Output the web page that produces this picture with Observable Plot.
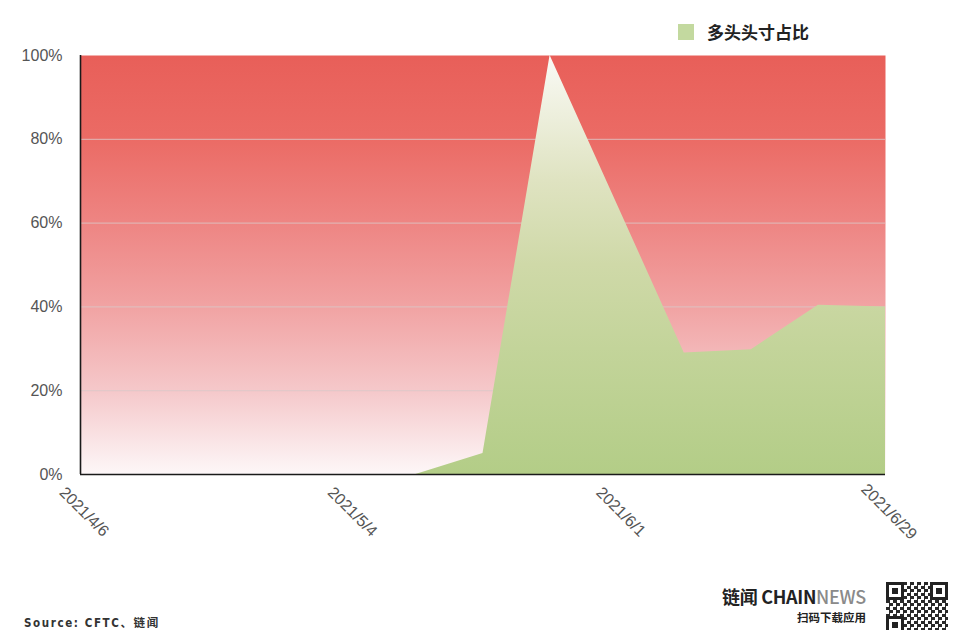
<!DOCTYPE html>
<html>
<head>
<meta charset="utf-8">
<script src="https://cdn.jsdelivr.net/npm/d3@7"></script>
<script src="https://cdn.jsdelivr.net/npm/@observablehq/plot@0.6"></script>
<style>
  body { margin: 0; background: #fff; }
  #wrap { position: relative; width: 960px; height: 630px; overflow: hidden; font-family: "Liberation Sans", Arial, sans-serif; }
  #chart { position: absolute; left: 0; top: 0; }
  .legend { position: absolute; left: 678px; top: 19px; display: flex; align-items: center; font-family: "Noto Sans CJK SC", sans-serif; font-size: 17px; font-weight: 700; color: #222; }
  .legend .sw { width: 16px; height: 16px; background: #c3d99f; margin-right: 13px; }
  .source { position: absolute; left: 24px; top: 614px; font-family: "DejaVu Sans Condensed", "Noto Sans CJK SC", sans-serif; font-size: 11.5px; letter-spacing: 1.6px; color: #333; font-weight: 600; }
  .brand { position: absolute; left: 722px; top: 583px; font-family: "Noto Sans CJK SC", sans-serif; font-size: 18px; font-weight: 700; color: #222; letter-spacing: -0.3px; }
  .brand span { color: #8a8a8a; font-weight: 500; }
  .brand2 { position: absolute; left: 797px; top: 609px; font-family: "Noto Sans CJK SC", sans-serif; font-size: 11.5px; font-weight: 700; color: #222; }
  .qr { position: absolute; left: 886px; top: 582px; width: 62px; height: 52px; background: repeating-conic-gradient(#2a2a2a 0 25%, #fff 0 50%) 0 0/7px 7px; }
  .qr i { position: absolute; width: 12px; height: 12px; border: 3px solid #222; background: #fff; box-shadow: inset 0 0 0 3px #fff, inset 0 0 0 6px #222; }
</style>
</head>
<body>
<div id="wrap">
  <div id="chart"></div>
  <div class="legend"><div class="sw"></div>多头头寸占比</div>
  <div class="source">Source: CFTC、链闻</div>
  <div class="brand">链闻 CHAIN<span>NEWS</span></div>
  <div class="brand2">扫码下载应用</div>
  <div class="qr"><i style="left:0;top:0"></i><i style="right:0;top:0"></i><i style="left:0;bottom:0"></i></div>
</div>
<script>
const dates = ["2021-04-06","2021-04-13","2021-04-20","2021-04-27","2021-05-04","2021-05-11","2021-05-18","2021-05-25","2021-06-01","2021-06-08","2021-06-15","2021-06-22","2021-06-29"];
const longShare = [0, 0, 0, 0, 0, 0, 0.05, 1.0, 0.645, 0.29, 0.298, 0.404, 0.40];
const tickDates = ["2021-04-06","2021-05-04","2021-06-01","2021-06-29"];
const tickLabels = ["2021/4/6","2021/5/4","2021/6/1","2021/6/29"];
const yTicks = [0, 0.2, 0.4, 0.6, 0.8, 1];

const data = dates.map((d, i) => ({date: new Date(d), value: longShare[i]}));
const ticks = tickDates.map((d, i) => ({date: new Date(d), label: tickLabels[i]}));

const chart = Plot.plot({
  width: 960,
  height: 630,
  marginLeft: 80,
  marginRight: 75,
  marginTop: 55,
  marginBottom: 156,
  style: {fontFamily: "'Liberation Sans', Arial, sans-serif", background: "transparent"},
  x: {type: "utc", domain: [new Date(dates[0]), new Date(dates[dates.length - 1])], axis: null},
  y: {domain: [0, 1], ticks: yTicks, tickFormat: d3.format(".0%"), label: null},
  marks: [
    Plot.frame({fill: "url(#bgGrad)", stroke: null}),
    Plot.gridY(yTicks.filter(t => t > 0 && t < 1), {stroke: "#dcc8c8", strokeOpacity: 0.85, strokeWidth: 1}),
    Plot.areaY(data, {x: "date", y: "value", fill: "url(#greenGrad)", curve: "linear"}),
    Plot.axisY({ticks: yTicks, tickFormat: d3.format(".0%"), tickSize: 0, tickPadding: 18, fontSize: 16, fill: "#555", label: null}),
    Plot.text(ticks, {x: "date", text: "label", frameAnchor: "bottom", dy: 41, rotate: 45, textAnchor: "middle", fontSize: 16, fill: "#555"}),
    Plot.ruleY([0], {stroke: "#1a1a1a", strokeWidth: 1.6}),
    Plot.ruleX([new Date(dates[0])], {stroke: "#1a1a1a", strokeWidth: 1.6})
  ]
});

const svg = d3.select(chart);
const defs = svg.insert("defs", ":first-child");
const bg = defs.append("linearGradient").attr("id", "bgGrad").attr("x1", 0).attr("y1", 0).attr("x2", 0).attr("y2", 1);
[[0, "#e85f59"], [0.2, "#eb6b65"], [0.4, "#ee8583"], [0.6, "#f1a3a3"], [0.8, "#f5c8ca"], [1, "#fdf7f8"]]
  .forEach(([o, c]) => bg.append("stop").attr("offset", o).attr("stop-color", c));
const gr = defs.append("linearGradient").attr("id", "greenGrad").attr("x1", 0).attr("y1", 0).attr("x2", 0).attr("y2", 1);
[[0, "#fafaf6"], [0.3, "#dfe3c1"], [0.5, "#cfd9a8"], [0.7, "#c3d49a"], [1, "#b3cd87"]]
  .forEach(([o, c]) => gr.append("stop").attr("offset", o).attr("stop-color", c));

document.getElementById("chart").appendChild(chart);
</script>
</body>
</html>
